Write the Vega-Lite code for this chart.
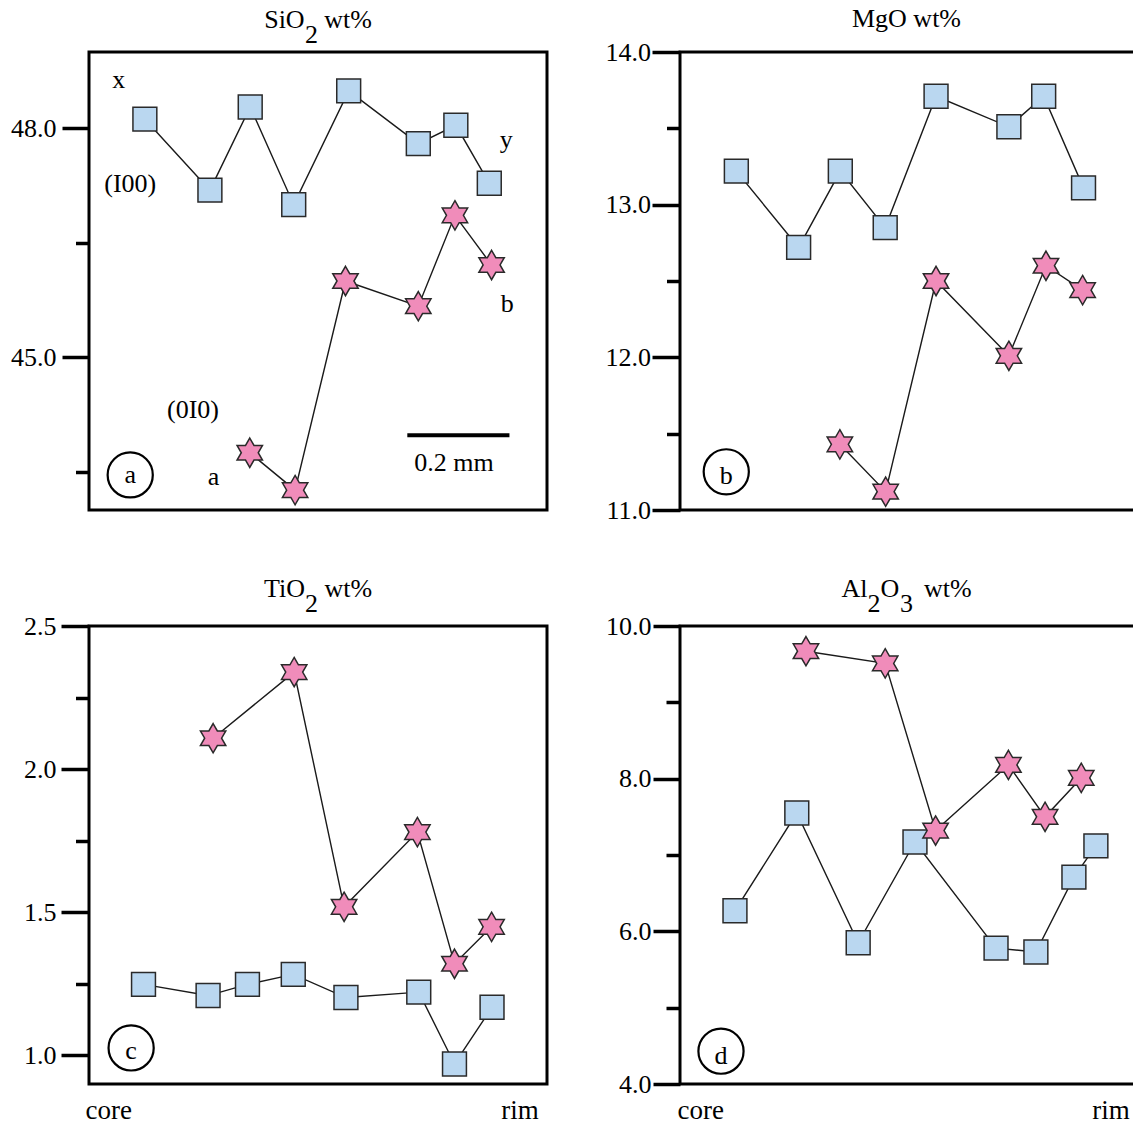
{
  "$schema": "https://vega.github.io/schema/vega-lite/v6.json",
  "background": "white",
  "padding": {"left": 9, "top": 4, "right": 0, "bottom": 0},
  "datasets": {
    "pts": [
      {"panel": "a", "series": "sq", "pos": 12.2, "value": 48.12},
      {"panel": "a", "series": "sq", "pos": 26.4, "value": 47.19},
      {"panel": "a", "series": "sq", "pos": 35.2, "value": 48.28},
      {"panel": "a", "series": "sq", "pos": 44.7, "value": 47.0},
      {"panel": "a", "series": "sq", "pos": 56.7, "value": 48.49},
      {"panel": "a", "series": "sq", "pos": 71.9, "value": 47.8},
      {"panel": "a", "series": "sq", "pos": 80.1, "value": 48.04},
      {"panel": "a", "series": "sq", "pos": 87.4, "value": 47.28},
      {"panel": "a", "series": "st", "pos": 35.1, "value": 43.75},
      {"panel": "a", "series": "st", "pos": 45.0, "value": 43.26},
      {"panel": "a", "series": "st", "pos": 56.0, "value": 46.0},
      {"panel": "a", "series": "st", "pos": 71.9, "value": 45.67},
      {"panel": "a", "series": "st", "pos": 79.9, "value": 46.86},
      {"panel": "a", "series": "st", "pos": 87.9, "value": 46.21},
      {"panel": "b", "series": "sq", "pos": 12.3, "value": 13.22},
      {"panel": "b", "series": "sq", "pos": 25.9, "value": 12.72},
      {"panel": "b", "series": "sq", "pos": 35.0, "value": 13.22},
      {"panel": "b", "series": "sq", "pos": 44.8, "value": 12.85},
      {"panel": "b", "series": "sq", "pos": 55.9, "value": 13.71},
      {"panel": "b", "series": "sq", "pos": 71.8, "value": 13.51},
      {"panel": "b", "series": "sq", "pos": 79.4, "value": 13.71},
      {"panel": "b", "series": "sq", "pos": 88.1, "value": 13.11},
      {"panel": "b", "series": "st", "pos": 34.9, "value": 11.43},
      {"panel": "b", "series": "st", "pos": 44.9, "value": 11.12},
      {"panel": "b", "series": "st", "pos": 55.9, "value": 12.5},
      {"panel": "b", "series": "st", "pos": 71.8, "value": 12.01},
      {"panel": "b", "series": "st", "pos": 79.9, "value": 12.6},
      {"panel": "b", "series": "st", "pos": 87.9, "value": 12.44},
      {"panel": "c", "series": "sq", "pos": 11.9, "value": 1.248},
      {"panel": "c", "series": "sq", "pos": 26.0, "value": 1.209},
      {"panel": "c", "series": "sq", "pos": 34.6, "value": 1.248},
      {"panel": "c", "series": "sq", "pos": 44.6, "value": 1.283},
      {"panel": "c", "series": "sq", "pos": 56.1, "value": 1.202},
      {"panel": "c", "series": "sq", "pos": 72.0, "value": 1.221},
      {"panel": "c", "series": "sq", "pos": 79.8, "value": 0.97},
      {"panel": "c", "series": "sq", "pos": 88.0, "value": 1.168},
      {"panel": "c", "series": "st", "pos": 27.1, "value": 2.108},
      {"panel": "c", "series": "st", "pos": 44.8, "value": 2.339},
      {"panel": "c", "series": "st", "pos": 55.7, "value": 1.519},
      {"panel": "c", "series": "st", "pos": 71.7, "value": 1.78},
      {"panel": "c", "series": "st", "pos": 79.8, "value": 1.32},
      {"panel": "c", "series": "st", "pos": 87.9, "value": 1.449},
      {"panel": "d", "series": "sq", "pos": 12.0, "value": 6.27},
      {"panel": "d", "series": "sq", "pos": 25.5, "value": 7.55},
      {"panel": "d", "series": "sq", "pos": 38.9, "value": 5.85},
      {"panel": "d", "series": "sq", "pos": 51.3, "value": 7.17},
      {"panel": "d", "series": "sq", "pos": 69.0, "value": 5.78},
      {"panel": "d", "series": "sq", "pos": 77.7, "value": 5.73},
      {"panel": "d", "series": "sq", "pos": 86.0, "value": 6.71},
      {"panel": "d", "series": "sq", "pos": 90.8, "value": 7.12},
      {"panel": "d", "series": "st", "pos": 27.5, "value": 9.67},
      {"panel": "d", "series": "st", "pos": 44.8, "value": 9.51},
      {"panel": "d", "series": "st", "pos": 55.8, "value": 7.32},
      {"panel": "d", "series": "st", "pos": 71.7, "value": 8.18},
      {"panel": "d", "series": "st", "pos": 79.7, "value": 7.5},
      {"panel": "d", "series": "st", "pos": 87.6, "value": 8.01}
    ],
    "labels": [
      {"panel": "a", "pos": 6.5, "value": 48.53, "label": "x"},
      {"panel": "a", "pos": 9.0, "value": 47.17, "label": "(I00)"},
      {"panel": "a", "pos": 91.1, "value": 47.74, "label": "y"},
      {"panel": "a", "pos": 91.3, "value": 45.59, "label": "b"},
      {"panel": "a", "pos": 22.7, "value": 44.21, "label": "(0I0)"},
      {"panel": "a", "pos": 27.2, "value": 43.33, "label": "a"},
      {"panel": "a", "pos": 79.7, "value": 43.51, "label": "0.2 mm"},
      {"panel": "a", "pos": 9.0, "value": 43.36, "label": "a"},
      {"panel": "b", "pos": 10.1, "value": 11.17, "label": "b"},
      {"panel": "c", "pos": 9.2, "value": 0.988, "label": "c"},
      {"panel": "d", "pos": 8.95, "value": 4.26, "label": "d"}
    ],
    "circles": [
      {"panel": "a", "pos": 9.0, "value": 43.46},
      {"panel": "b", "pos": 10.1, "value": 11.25},
      {"panel": "c", "pos": 9.2, "value": 1.026},
      {"panel": "d", "pos": 8.95, "value": 4.43}
    ],
    "scalebar": [
      {"panel": "a", "pos": 69.5, "pos2": 91.8, "value": 43.98}
    ]
  },
  "concat": [
    {
      "width": 458, "height": 458,
      "title": {"text": "SiO\u00a0\u00a0\u00a0wt%", "subtitle": "2\u00a0\u00a0\u200b", "offset": 4, "subtitlePadding": -11},
      "encoding": {
        "x": {"field": "pos", "type": "quantitative", "scale": {"domain": [0, 100], "nice": false, "zero": false}, "axis": null},
        "y": {"field": "value", "type": "quantitative", "scale": {"domain": [43, 49], "nice": false, "zero": false},
          "axis": {"title": null, "values": [43.5, 45, 46.5, 48], "labelPadding": 6,
            "labelExpr": "indexof([45,48], datum.value) >= 0 ? format(datum.value, '.1f') : ''",
            "tickSize": {"condition": {"test": "indexof([45,48], datum.value) >= 0", "value": 27}, "value": 13.5}}}
      },
      "layer": [
        {"data": {"name": "pts"}, "transform": [{"filter": "datum.panel == 'a'"}], "mark": {"type": "line", "color": "#1a1a1a", "strokeWidth": 1.4}, "encoding": {"detail": {"field": "series"}}},
        {"data": {"name": "pts"}, "transform": [{"filter": "datum.panel == 'a' && datum.series == 'sq'"}], "mark": {"type": "point", "shape": "square", "size": 570, "filled": true, "fill": "#bad7f0", "stroke": "#2a2a2a", "strokeWidth": 1.5, "opacity": 1}},
        {"data": {"name": "pts"}, "transform": [{"filter": "datum.panel == 'a' && datum.series == 'st'"}], "mark": {"type": "point", "shape": "M0,-1L0.289,-0.5L0.866,-0.5L0.577,0L0.866,0.5L0.289,0.5L0,1L-0.289,0.5L-0.866,0.5L-0.577,0L-0.866,-0.5L-0.289,-0.5Z", "size": 860, "filled": true, "fill": "#f08cba", "stroke": "#2a2a2a", "strokeWidth": 1.5, "opacity": 1}},
        {"data": {"name": "scalebar"}, "mark": {"type": "rule", "color": "black", "strokeWidth": 4}, "encoding": {"x2": {"field": "pos2"}}},
        {"data": {"name": "circles"}, "transform": [{"filter": "datum.panel == 'a'"}], "mark": {"type": "point", "shape": "circle", "size": 2040, "filled": false, "stroke": "black", "strokeWidth": 2.2, "opacity": 1}},
        {"data": {"name": "labels"}, "transform": [{"filter": "datum.panel == 'a'"}], "mark": {"type": "text", "font": "Liberation Serif", "fontSize": 26, "baseline": "alphabetic", "align": "center", "color": "black"}, "encoding": {"text": {"field": "label"}}}
      ]
    },
    {
      "width": 453, "height": 458,
      "view": {"strokeDash": [453, 458, 911]},
      "title": {"text": "MgO wt%", "offset": 7},
      "encoding": {
        "x": {"field": "pos", "type": "quantitative", "scale": {"domain": [0, 98.9], "nice": false, "zero": false}, "axis": null},
        "y": {"field": "value", "type": "quantitative", "scale": {"domain": [11, 14], "nice": false, "zero": false},
          "axis": {"title": null, "values": [11, 11.5, 12, 12.5, 13, 13.5, 14], "labelPadding": 1.5,
            "labelExpr": "datum.value % 1 == 0 ? format(datum.value, '.1f') : ''",
            "tickSize": {"condition": {"test": "datum.value % 1 == 0", "value": 28}, "value": 13.5}}}
      },
      "layer": [
        {"data": {"name": "pts"}, "transform": [{"filter": "datum.panel == 'b'"}], "mark": {"type": "line", "color": "#1a1a1a", "strokeWidth": 1.4}, "encoding": {"detail": {"field": "series"}}},
        {"data": {"name": "pts"}, "transform": [{"filter": "datum.panel == 'b' && datum.series == 'sq'"}], "mark": {"type": "point", "shape": "square", "size": 570, "filled": true, "fill": "#bad7f0", "stroke": "#2a2a2a", "strokeWidth": 1.5, "opacity": 1}},
        {"data": {"name": "pts"}, "transform": [{"filter": "datum.panel == 'b' && datum.series == 'st'"}], "mark": {"type": "point", "shape": "M0,-1L0.289,-0.5L0.866,-0.5L0.577,0L0.866,0.5L0.289,0.5L0,1L-0.289,0.5L-0.866,0.5L-0.577,0L-0.866,-0.5L-0.289,-0.5Z", "size": 860, "filled": true, "fill": "#f08cba", "stroke": "#2a2a2a", "strokeWidth": 1.5, "opacity": 1}},
        {"data": {"name": "circles"}, "transform": [{"filter": "datum.panel == 'b'"}], "mark": {"type": "point", "shape": "circle", "size": 2040, "filled": false, "stroke": "black", "strokeWidth": 2.2, "opacity": 1}},
        {"data": {"name": "labels"}, "transform": [{"filter": "datum.panel == 'b'"}], "mark": {"type": "text", "font": "Liberation Serif", "fontSize": 26, "baseline": "alphabetic", "align": "center", "color": "black"}, "encoding": {"text": {"field": "label"}}}
      ]
    },
    {
      "width": 458, "height": 458,
      "title": {"text": "TiO\u00a0\u00a0\u00a0wt%", "subtitle": "2\u00a0\u00a0\u200b", "offset": -4, "subtitlePadding": -11},
      "encoding": {
        "x": {"field": "pos", "type": "quantitative", "scale": {"domain": [0, 100], "nice": false, "zero": false},
          "axis": {"title": null, "values": [4.2, 94], "ticks": false, "domain": false, "labelFlush": false, "labelPadding": 13, "labelFontSize": 27,
            "labelExpr": "datum.value < 50 ? 'core' : 'rim'"}},
        "y": {"field": "value", "type": "quantitative", "scale": {"domain": [0.9, 2.5], "nice": false, "zero": false},
          "axis": {"title": null, "values": [1, 1.25, 1.5, 1.75, 2, 2.25, 2.5], "labelPadding": 5,
            "labelExpr": "datum.value % 0.5 == 0 ? format(datum.value, '.1f') : ''",
            "tickSize": {"condition": {"test": "datum.value % 0.5 == 0", "value": 28}, "value": 13.5}}}
      },
      "layer": [
        {"data": {"name": "pts"}, "transform": [{"filter": "datum.panel == 'c'"}], "mark": {"type": "line", "color": "#1a1a1a", "strokeWidth": 1.4}, "encoding": {"detail": {"field": "series"}}},
        {"data": {"name": "pts"}, "transform": [{"filter": "datum.panel == 'c' && datum.series == 'sq'"}], "mark": {"type": "point", "shape": "square", "size": 570, "filled": true, "fill": "#bad7f0", "stroke": "#2a2a2a", "strokeWidth": 1.5, "opacity": 1}},
        {"data": {"name": "pts"}, "transform": [{"filter": "datum.panel == 'c' && datum.series == 'st'"}], "mark": {"type": "point", "shape": "M0,-1L0.289,-0.5L0.866,-0.5L0.577,0L0.866,0.5L0.289,0.5L0,1L-0.289,0.5L-0.866,0.5L-0.577,0L-0.866,-0.5L-0.289,-0.5Z", "size": 860, "filled": true, "fill": "#f08cba", "stroke": "#2a2a2a", "strokeWidth": 1.5, "opacity": 1}},
        {"data": {"name": "circles"}, "transform": [{"filter": "datum.panel == 'c'"}], "mark": {"type": "point", "shape": "circle", "size": 2040, "filled": false, "stroke": "black", "strokeWidth": 2.2, "opacity": 1}},
        {"data": {"name": "labels"}, "transform": [{"filter": "datum.panel == 'c'"}], "mark": {"type": "text", "font": "Liberation Serif", "fontSize": 26, "baseline": "alphabetic", "align": "center", "color": "black"}, "encoding": {"text": {"field": "label"}}}
      ]
    },
    {
      "width": 453, "height": 458,
      "view": {"strokeDash": [453, 458, 911]},
      "title": {"text": "Al\u00a0\u00a0O\u00a0\u00a0\u00a0\u2009wt%", "subtitle": "2\u00a0\u00a0\u00a03\u00a0\u00a0\u00a0\u00a0\u00a0\u200b", "offset": -4, "subtitlePadding": -11},
      "encoding": {
        "x": {"field": "pos", "type": "quantitative", "scale": {"domain": [0, 98.9], "nice": false, "zero": false},
          "axis": {"title": null, "values": [4.4, 94], "ticks": false, "domain": false, "labelFlush": false, "labelPadding": 13, "labelFontSize": 27,
            "labelExpr": "datum.value < 50 ? 'core' : 'rim'"}},
        "y": {"field": "value", "type": "quantitative", "scale": {"domain": [4, 10], "nice": false, "zero": false},
          "axis": {"title": null, "values": [4, 5, 6, 7, 8, 9, 10], "labelPadding": 2,
            "labelExpr": "datum.value % 2 == 0 ? format(datum.value, '.1f') : ''",
            "tickSize": {"condition": {"test": "datum.value % 2 == 0", "value": 27}, "value": 14}}}
      },
      "layer": [
        {"data": {"name": "pts"}, "transform": [{"filter": "datum.panel == 'd'"}], "mark": {"type": "line", "color": "#1a1a1a", "strokeWidth": 1.4}, "encoding": {"detail": {"field": "series"}}},
        {"data": {"name": "pts"}, "transform": [{"filter": "datum.panel == 'd' && datum.series == 'sq'"}], "mark": {"type": "point", "shape": "square", "size": 570, "filled": true, "fill": "#bad7f0", "stroke": "#2a2a2a", "strokeWidth": 1.5, "opacity": 1}},
        {"data": {"name": "pts"}, "transform": [{"filter": "datum.panel == 'd' && datum.series == 'st'"}], "mark": {"type": "point", "shape": "M0,-1L0.289,-0.5L0.866,-0.5L0.577,0L0.866,0.5L0.289,0.5L0,1L-0.289,0.5L-0.866,0.5L-0.577,0L-0.866,-0.5L-0.289,-0.5Z", "size": 860, "filled": true, "fill": "#f08cba", "stroke": "#2a2a2a", "strokeWidth": 1.5, "opacity": 1}},
        {"data": {"name": "circles"}, "transform": [{"filter": "datum.panel == 'd'"}], "mark": {"type": "point", "shape": "circle", "size": 2040, "filled": false, "stroke": "black", "strokeWidth": 2.2, "opacity": 1}},
        {"data": {"name": "labels"}, "transform": [{"filter": "datum.panel == 'd'"}], "mark": {"type": "text", "font": "Liberation Serif", "fontSize": 26, "baseline": "alphabetic", "align": "center", "color": "black"}, "encoding": {"text": {"field": "label"}}}
      ]
    }
  ],
  "columns": 2,
  "spacing": {"row": 116, "column": 133},
  "bounds": "flush",
  "align": "all",
  "config": {
    "font": "Liberation Serif",
    "view": {"stroke": "black", "strokeWidth": 3, "fill": null},
    "axis": {"labelFont": "Liberation Serif", "labelFontSize": 26, "labelColor": "black", "tickColor": "black", "tickWidth": 3.5, "domain": false, "grid": false},
    "title": {"font": "Liberation Serif", "fontSize": 26, "fontWeight": "normal", "color": "black", "subtitleFont": "Liberation Serif", "subtitleFontSize": 26, "subtitleColor": "black", "frame": "group", "anchor": "middle"}
  }
}
